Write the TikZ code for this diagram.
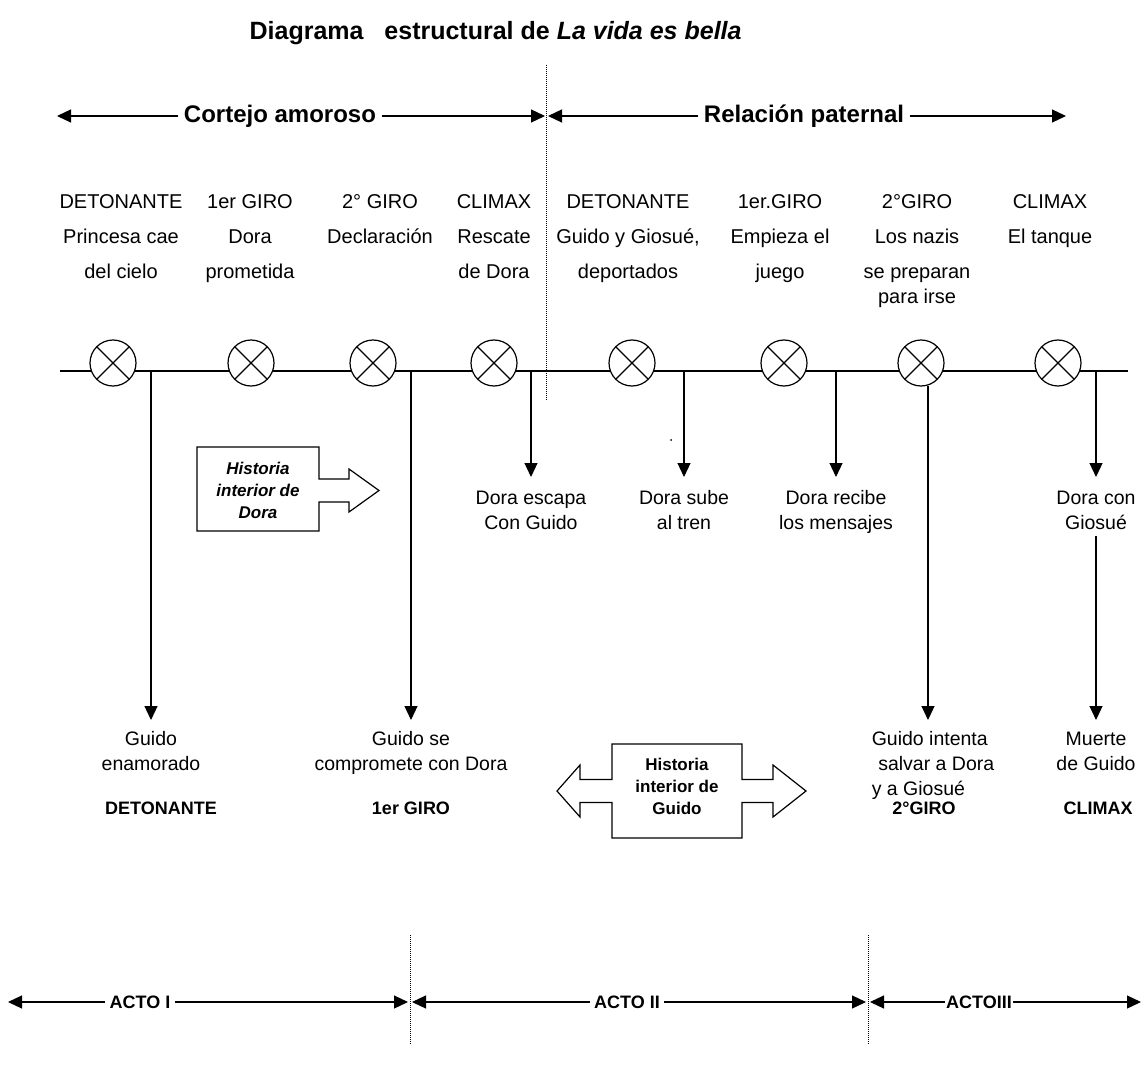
\documentclass[tikz,border=0pt]{standalone}
\usepackage{fontspec}
\setmainfont{Liberation Sans}
\usetikzlibrary{arrows.meta}
\begin{document}
\begin{tikzpicture}[x=1pt,y=-1pt,line width=1.2pt,
  tipend/.style={-{Triangle[length=14pt,width=13pt]}},
  body/.style={font=\fontsize{20}{35}\selectfont,align=center,inner sep=0pt},
  low/.style={font=\fontsize{19.5}{25}\selectfont,align=center,inner sep=0pt},
  head/.style={font=\fontsize{24}{28}\selectfont\bfseries,inner sep=5pt},
  acto/.style={font=\fontsize{18}{22}\selectfont\bfseries,inner sep=4pt},
  lab/.style={font=\fontsize{18}{22}\selectfont\bfseries,inner sep=0pt},
  xc/.style={circle,draw,fill=white,minimum size=46pt,inner sep=0pt,
    path picture={\draw (path picture bounding box.north west) -- (path picture bounding box.south east)
      (path picture bounding box.north east) -- (path picture bounding box.south west);}},
  dots/.style={line width=0.8pt,dash pattern=on 1pt off 1pt},
  boxtxt/.style={font=\fontsize{17}{22}\selectfont\bfseries,align=center,inner sep=0pt}
]
\useasboundingbox (0,0) rectangle (1143,1075);

% title
\node[anchor=base west,inner sep=0pt,font=\fontsize{25}{29}\selectfont\bfseries] (title) at (249,40)
  {Diagrama\hspace{14pt} estructural de \textit{La vida es bella}};

% dotted separators
\coordinate (d1a) at (546,65); \coordinate (d1b) at (546,400);
\coordinate (d2a) at (410,935); \coordinate (d2b) at (410,1045);
\coordinate (d3a) at (868,935); \coordinate (d3b) at (868,1045);
\draw[dots] (d1a) -- (d1b);
\draw[dots] (d2a) -- (d2b);
\draw[dots] (d3a) -- (d3b);

% top span arrows
\coordinate (cL) at (57,116); \coordinate (cR) at (545,116);
\node[head] (cort) at (280,116) {Cortejo amoroso};
\draw[tipend] (cort.west) -- (cL);
\draw[tipend] (cort.east) -- (cR);
\coordinate (pL) at (548,116); \coordinate (pR) at (1066,116);
\node[head] (pat) at (804,116) {Relación paternal};
\draw[tipend] (pat.west) -- (pL);
\draw[tipend] (pat.east) -- (pR);

% column texts
\node[body,anchor=north] (t1) at (121,194) {DETONANTE\\Princesa cae\\del cielo};
\node[body,anchor=north] (t2) at (250,194) {1er GIRO\\Dora\\prometida};
\node[body,anchor=north] (t3) at (380,194) {2° GIRO\\Declaración};
\node[body,anchor=north] (t4) at (494,194) {CLIMAX\\Rescate\\de Dora};
\node[body,anchor=north] (t5) at (628,194) {DETONANTE\\Guido y Giosué,\\deportados};
\node[body,anchor=north] (t6) at (780,194) {1er.GIRO\\Empieza el\\juego};
\node[body,anchor=north] (t7) at (917,194) {2°GIRO\\Los nazis\\se preparan};
\node[body,anchor=base] (t7b) at (917,304) {para irse};
\node[body,anchor=north] (t8) at (1050,194) {CLIMAX\\El tanque};

% main line
\coordinate (mL) at (60,371); \coordinate (mR) at (1128,371);
\draw (mL) -- (mR);
\foreach \i/\x in {1/113,2/251,3/373,4/494,5/632,6/784,7/921,8/1058}
  \node[xc] (c\i) at (\x,363) {};

% branch points
\coordinate (b1) at (151,371);
\coordinate (b2) at (411,371);
\coordinate (b3) at (531,371);
\coordinate (b4) at (684,371);
\coordinate (b5) at (836,371);
\coordinate (b6) at (928,386);
\coordinate (b7) at (1096,371);

% upper results (Dora)
\node[low,anchor=north] (r3) at (531,490) {Dora escapa\\Con Guido};
\node[low,anchor=north] (r4) at (684,490) {Dora sube\\al tren};
\node[low,anchor=north] (r5) at (836,490) {Dora recibe\\los mensajes};
\node[low,anchor=north] (r7) at (1096,490) {Dora con\\Giosué};
\draw[tipend] (b3) -- ([yshift=13pt]r3.north);
\draw[tipend] (b4) -- ([yshift=13pt]r4.north);
\draw[tipend] (b5) -- ([yshift=13pt]r5.north);
\draw[tipend] (b7) -- ([yshift=13pt]r7.north);

% lower results (Guido)
\node[low,anchor=north] (g1) at (151,731) {Guido\\enamorado};
\node[low,anchor=north] (g2) at (411,731) {Guido se\\compromete con Dora};
\node[low,anchor=north,align=left] (g6) at (933,731) {Guido intenta\\\,\,salvar a Dora\\y a Giosué};
\node[low,anchor=north] (g7) at (1096,731) {Muerte\\de Guido};
\draw[tipend] (b1) -- ([yshift=11pt]g1.north);
\draw[tipend] (b2) -- ([yshift=11pt]g2.north);
\draw[tipend] (b6) -- ([yshift=11pt]g6.north -| b6);
\draw[tipend] ([yshift=-6pt]r7.south) -- ([yshift=11pt]g7.north);

% stray dot
\fill (671,440) circle (1pt);

% bottom labels
\node[lab,anchor=base] (l1) at (161,814) {DETONANTE};
\node[lab,anchor=base] (l2) at (411,814) {1er GIRO};
\node[lab,anchor=base] (l3) at (924,814) {2°GIRO};
\node[lab,anchor=base] (l4) at (1098,814) {CLIMAX};

% Historia interior de Dora
\draw (197,447) -- (319,447) -- (319,479) -- (349,479) -- (349,469) -- (379,490.5)
  -- (349,512) -- (349,502) -- (319,502) -- (319,531) -- (197,531) -- cycle;
\node[boxtxt,font=\fontsize{17}{22}\selectfont\bfseries\itshape] (hd) at (258,490) {Historia\\interior de\\Dora};

% Historia interior de Guido
\draw (612,744) -- (742,744) -- (742,779.5) -- (773,779.5) -- (773,765) -- (806,791)
  -- (773,817) -- (773,802.5) -- (742,802.5) -- (742,838) -- (612,838) -- (612,802.5)
  -- (580,802.5) -- (580,817) -- (557,791) -- (580,765) -- (580,779.5) -- (612,779.5) -- cycle;
\node[boxtxt] (hg) at (677,786) {Historia\\interior de\\Guido};

% acts
\coordinate (a1L) at (8,1002); \coordinate (a1R) at (408,1002);
\node[acto] (a1) at (140,1002) {ACTO I};
\draw[tipend] (a1.west) -- (a1L);
\draw[tipend] (a1.east) -- (a1R);
\coordinate (a2L) at (412,1002); \coordinate (a2R) at (866,1002);
\node[acto] (a2) at (627,1002) {ACTO II};
\draw[tipend] (a2.west) -- (a2L);
\draw[tipend] (a2.east) -- (a2R);
\coordinate (a3L) at (870,1002); \coordinate (a3R) at (1141,1002);
\node[acto,inner sep=1pt] (a3) at (979,1002) {ACTOIII};
\draw[tipend] (a3.west) -- (a3L);
\draw[tipend] (a3.east) -- (a3R);
\end{tikzpicture}
\end{document}
